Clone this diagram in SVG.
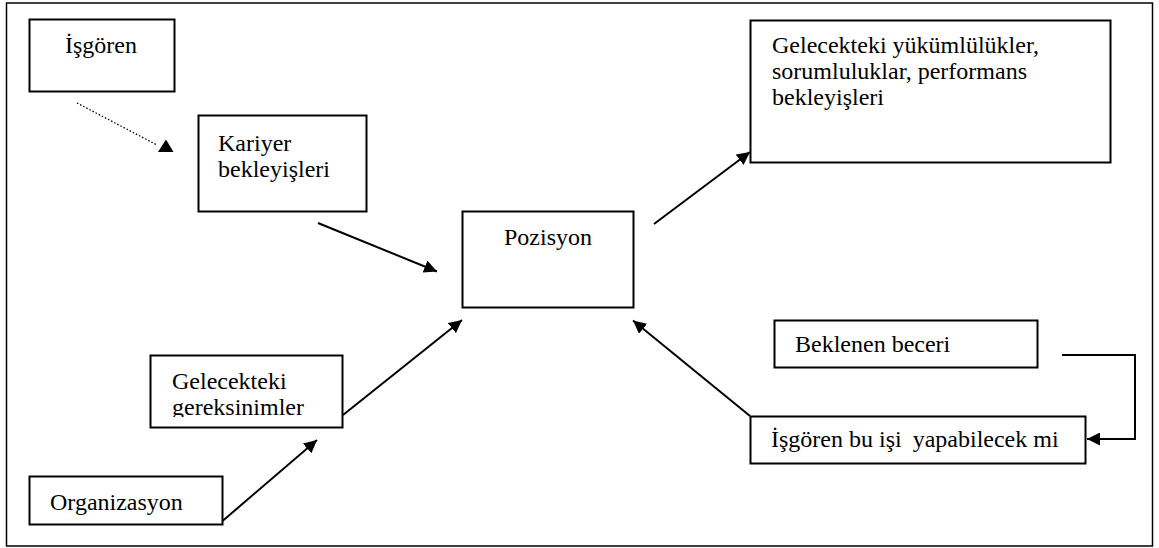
<svg xmlns="http://www.w3.org/2000/svg" width="1159" height="548" viewBox="0 0 1159 548">
<style>
.box{fill:#fff;stroke:#000;stroke-width:2}
.t{font-family:"Liberation Serif","Times New Roman",serif;font-size:24px;fill:#000}
.c{fill:none;stroke:#000;stroke-width:2}
.d{fill:none;stroke:#000;stroke-width:1.3;stroke-dasharray:1.5 2}
</style>
<defs>
<marker id="ah" viewBox="0 0 10 10" refX="10" refY="5" markerWidth="9" markerHeight="8" markerUnits="userSpaceOnUse" orient="auto"><path d="M0,0 L10,5 L0,10 z" fill="#000"/></marker>
<marker id="ah2" viewBox="0 0 10 10" refX="10" refY="5" markerWidth="13" markerHeight="13" markerUnits="userSpaceOnUse" orient="auto"><path d="M0,0 L10,5 L0,10 z" fill="#000"/></marker>
<clipPath id="gclip"><rect x="150" y="355" width="193" height="62"/></clipPath>
</defs>
<rect x="0" y="0" width="1159" height="548" fill="#fff"/>
<rect x="6.5" y="3" width="1146" height="543" fill="none" stroke="#000" stroke-width="1.5"/>
<g id="connectors">
<line class="d" x1="77" y1="103" x2="157" y2="145"/>
<polygon points="158,152 173.5,152 166,139.5" fill="#000"/>
<line class="c" x1="318" y1="223" x2="437" y2="271.5" marker-end="url(#ah2)"/>
<line class="c" x1="654" y1="224" x2="750" y2="152" marker-end="url(#ah2)"/>
<line class="c" x1="343" y1="415" x2="462" y2="320" marker-end="url(#ah2)"/>
<line class="c" x1="222.5" y1="521" x2="317" y2="440" marker-end="url(#ah2)"/>
<line class="c" x1="750" y1="416" x2="633" y2="320.5" marker-end="url(#ah2)"/>
<polyline class="c" points="1062,355 1135,355 1135,439 1087,439" marker-end="url(#ah2)"/>
</g>
<g id="isgoren">
<rect class="box" x="29.5" y="19.5" width="145" height="72"/>
<text class="t" x="65" y="53">İşgören</text>
</g>
<g id="kariyer">
<rect class="box" x="198.5" y="115.5" width="168" height="96"/>
<text class="t" x="218" y="151">Kariyer</text>
<text class="t" x="218" y="177">bekleyişleri</text>
</g>
<g id="pozisyon">
<rect class="box" x="462.5" y="211.5" width="171" height="96"/>
<text class="t" x="504" y="245">Pozisyon</text>
</g>
<g id="gelecek-yukum">
<rect class="box" x="750.5" y="20.5" width="360" height="142"/>
<text class="t" x="772" y="53">Gelecekteki yükümlülükler,</text>
<text class="t" x="772" y="79">sorumluluklar, performans</text>
<text class="t" x="772" y="105">bekleyişleri</text>
</g>
<g id="gereksinimler">
<rect class="box" x="150.5" y="355.5" width="192" height="72"/>
<text class="t" x="172" y="389">Gelecekteki</text>
<text class="t" x="172" y="415" clip-path="url(#gclip)">gereksinimler</text>
</g>
<g id="organizasyon">
<rect class="box" x="29.5" y="476.5" width="193" height="48"/>
<text class="t" x="50" y="510">Organizasyon</text>
</g>
<g id="beklenen">
<rect class="box" x="774.5" y="320.5" width="263" height="47"/>
<text class="t" x="795" y="352">Beklenen beceri</text>
</g>
<g id="yapabilecek">
<rect class="box" x="750.5" y="416.5" width="335" height="47"/>
<text class="t" x="771" y="447">İşgören bu işi <tspan dx="5">yapabilecek mi</tspan></text>
</g>
</svg>
